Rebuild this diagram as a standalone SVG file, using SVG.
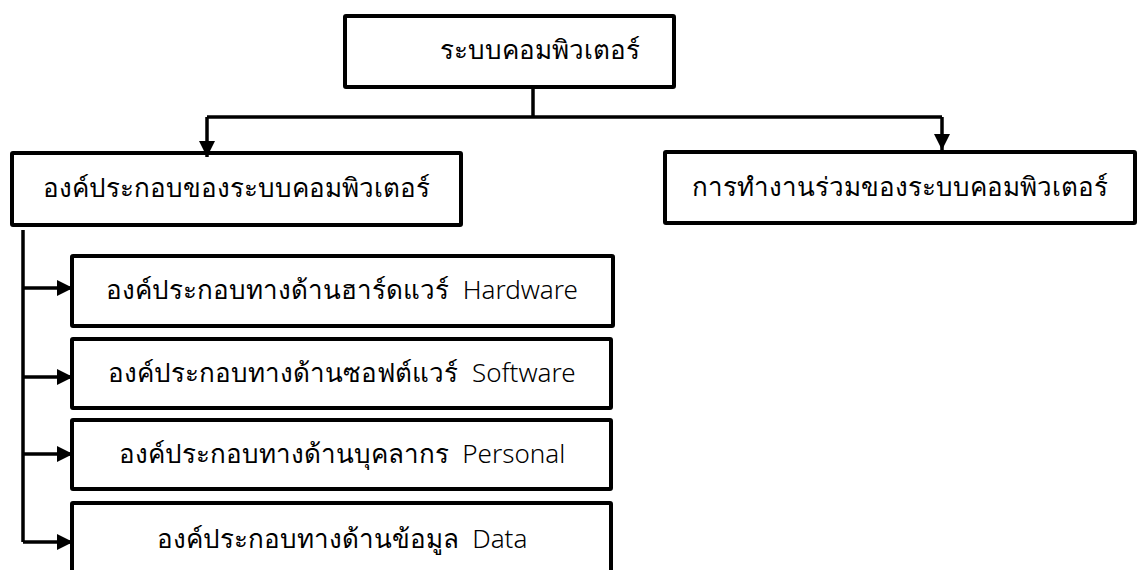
<svg xmlns="http://www.w3.org/2000/svg" width="1140" height="570" viewBox="0 0 1140 570">
<style>
.box{fill:#fff;stroke:#000;stroke-width:4}
.lbl{font-family:"Noto Sans","DejaVu Sans",sans-serif;font-size:26px;font-weight:300;fill:#000;text-anchor:middle;dominant-baseline:central;white-space:pre}
.con{fill:none;stroke:#000;stroke-width:3.5}
</style>
<defs>
<marker id="ah" viewBox="0 0 16 16" refX="16" refY="8" markerWidth="16" markerHeight="16" markerUnits="userSpaceOnUse" orient="auto"><path d="M0 0 L16 8 L0 16z" fill="#000"/></marker>
</defs>
<rect width="1140" height="570" fill="#fff"/>
<g id="n-root"><rect class="box" x="345" y="16" width="329" height="71" rx="1"/><text class="lbl" x="540" y="49">ระบบคอมพิวเตอร์</text></g>
<g id="n-comp"><rect class="box" x="12" y="153" width="449" height="72" rx="1"/><text class="lbl" x="236" y="187">องค์ประกอบของระบบคอมพิวเตอร์</text></g>
<g id="n-coop"><rect class="box" x="665" y="152" width="470" height="71" rx="1"/><text class="lbl" x="900" y="186">การทำงานร่วมของระบบคอมพิวเตอร์</text></g>
<g id="n-hw"><rect class="box" x="72" y="256" width="541" height="70" rx="1"/><text class="lbl" x="342" y="289" xml:space="preserve">องค์ประกอบทางด้านฮาร์ดแวร์  Hardware</text></g>
<g id="n-sw"><rect class="box" x="72" y="339" width="539" height="69" rx="1"/><text class="lbl" x="342" y="372" xml:space="preserve">องค์ประกอบทางด้านซอฟต์แวร์  Software</text></g>
<g id="n-ps"><rect class="box" x="72" y="420" width="539" height="69" rx="1"/><text class="lbl" x="342" y="453" xml:space="preserve">องค์ประกอบทางด้านบุคลากร  Personal</text></g>
<g id="n-dt"><rect class="box" x="72" y="503" width="539" height="80" rx="1"/><text class="lbl" x="342" y="538" xml:space="preserve">องค์ประกอบทางด้านข้อมูล  Data</text></g>
<g id="connectors">
<path class="con" d="M533 89 V117"/>
<path class="con" d="M207 117 H942"/>
<path class="con" d="M207 117 V157" marker-end="url(#ah)"/>
<path class="con" d="M942 117 V150" marker-end="url(#ah)"/>
<path class="con" d="M23 230 V542"/>
<path class="con" d="M23 288 H73" marker-end="url(#ah)"/>
<path class="con" d="M23 377 H73" marker-end="url(#ah)"/>
<path class="con" d="M23 454 H73" marker-end="url(#ah)"/>
<path class="con" d="M23 542 H73" marker-end="url(#ah)"/>
</g>
</svg>
